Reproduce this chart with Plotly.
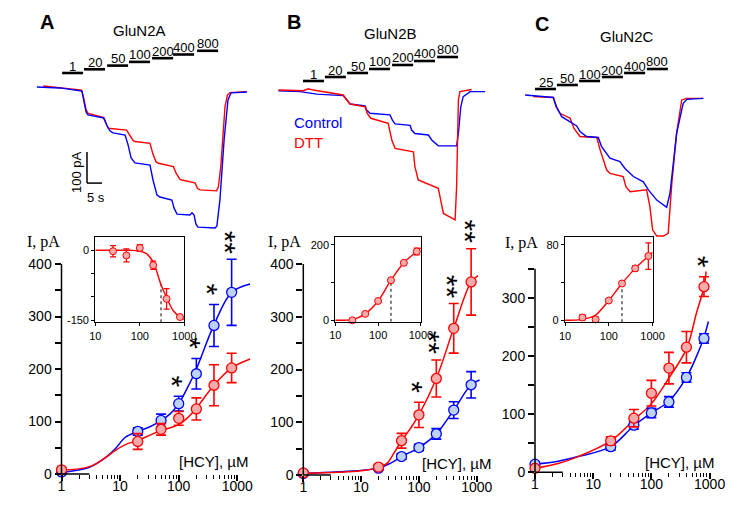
import math
import plotly.graph_objects as go

W, H = 751, 516

# ---------------- data: concentration-response (pA) ----------------
conc = [1, 20, 50, 100, 200, 400, 800]

a_ctrl = [4, 81, 102, 134, 191, 283, 346]
a_ctrl_err = [3, 7, 12, 14, 29, 40, 63]
a_dtt = [8, 62, 85, 106, 124, 169, 202]
a_dtt_err = [3, 15, 11, 13, 21, 39, 28]
a_sig = ["", "", "", "*", "*", "*", "**"]

b_ctrl = [3, 13, 35, 52, 78, 123, 171]
b_ctrl_err = [2, 4, 5, 6, 10, 16, 25]
b_dtt = [4, 15, 65, 114, 183, 278, 366]
b_dtt_err = [3, 5, 14, 24, 35, 47, 63]
b_sig = ["", "", "", "*", "**", "**", "**"]

c_ctrl = [14, 44, 81, 102, 121, 163, 230]
c_ctrl_err = [4, 6, 7, 8, 9, 8, 8]
c_dtt = [7, 54, 93, 136, 179, 215, 319]
c_dtt_err = [3, 7, 15, 22, 27, 27, 17]
c_sig = ["", "", "", "", "", "", "*"]

# fitted curves
a_fit_x = [1, 3, 5.6, 8.3, 12.3, 20, 31, 49, 72, 100, 138, 195, 400, 800, 1660]
a_fit_ctrl = [3, 13, 31, 48, 70, 81, 89, 101, 115, 134, 162, 197, 284, 346, 362]
a_fit_dtt = [7, 14, 31, 45, 56, 64, 73, 83, 88, 94, 106, 124, 169, 202, 219]

b_fit_ctrl_x = [1, 4, 20, 33, 50, 100, 200, 400, 800, 1120]
b_fit_ctrl = [3, 6, 13, 23, 35, 52, 78, 123, 171, 180]
b_fit_dtt_x = [1, 4, 10, 20, 28, 38, 50, 71, 100, 200, 400, 800, 1050]
b_fit_dtt = [3, 5, 8, 14, 22, 44, 65, 88, 114, 183, 278, 366, 378]

c_fit_ctrl_x = [1, 2.5, 5.5, 20, 50, 100, 200, 400, 600, 800, 955]
c_fit_ctrl = [14, 19, 27, 44, 80, 102, 122, 163, 200, 232, 259]
c_fit_dtt_x = [1, 2.5, 5.5, 20, 50, 100, 200, 400, 600, 800, 870]
c_fit_dtt = [7, 15, 27, 54, 90, 118, 162, 212, 275, 318, 345]

# insets: DTT effect (pA)
ins_conc = [25, 50, 100, 200, 400, 800]
ia = [-2, -11, 5, -32, -104, -143]
ia_err = [12, 14, 7, 9, 22, 4]
ia_fit_x = [10, 60, 91, 141, 200, 295, 396, 562, 794, 1000]
ia_fit = [0, 0, -1, -7, -25, -72, -100, -129, -143, -148]
ib = [0, 17, 51, 106, 152, 182]
ib_err = [3, 4, 4, 4, 5, 9]
ib_fit_x = [10, 20, 25, 50, 100, 200, 400, 800, 1000]
ib_fit = [0, 0.5, 1.5, 17, 51, 106, 152, 182, 192]
ic = [3, 1, 21, 39, 55, 68]
ic_err = [3, 2, 2, 2, 3, 14]
ic_fit_x = [10, 20, 35, 50, 100, 200, 400, 800, 1000]
ic_fit = [0, 0.5, 2.5, 5.5, 21, 39, 55, 68, 72]
ec50 = [300, 200, 200]
ec50_I = [-72, 106, 39]

# ---------------- data: current recordings (time s, current pA) ----------------
ta_t_ctrl = [2.3, 10, 17.3, 18, 18.7, 19.3, 24.7, 25.7, 26.7, 27.7, 31.7, 32.7, 33.7, 35, 40, 41,
             42.3, 43.3, 47.3, 48, 49, 53.3, 54, 54.7, 55.3, 56, 61.7, 62.3, 63.3, 64.7, 66, 67, 72.3]
ta_i_ctrl = [0, -3, -13, -42, -81, -90, -100, -126, -142, -148, -155, -187, -229, -245, -252, -300,
             -348, -355, -365, -390, -410, -413, -406, -413, -442, -452, -455, -448, -365, -171, -42, -19, -16]
ta_t_dtt = [4.4, 17.2, 17.8, 18.7, 19.4, 24.4, 25.3, 26.1, 32.2, 33.3, 34.4, 35, 40, 40.9, 42, 42.8,
            47.8, 48.7, 50, 50.6, 55, 55.8, 56.7, 62.2, 62.8, 63.6, 64.4, 65, 65.8, 66.7, 72.2]
ta_i_dtt = [3, -10, -31, -74, -85, -98, -117, -133, -139, -155, -173, -176, -182, -214, -241, -246,
            -257, -278, -298, -300, -309, -327, -332, -335, -322, -257, -149, -64, -26, -18, -15]

tb_t_ctrl = [2.8, 10, 15.6, 24.4, 25.6, 26.7, 31.7, 32.2, 33.3, 40, 40.9, 41.7, 46.7, 47.2, 48.3,
             52.8, 53.9, 55.6, 56.1, 62.2, 62.8, 63.6, 64.4, 66.7, 71.7]
tb_i_ctrl = [1, -2, -10, -15, -29, -42, -48, -61, -72, -77, -96, -106, -111, -126, -137,
             -142, -158, -174, -177, -177, -137, -51, -18, -2, -2]
tb_t_dtt = [2.8, 11.1, 12.8, 14.4, 24.4, 25.6, 26.7, 31.7, 32.4, 33.6, 39.4, 40.6, 41.7, 47.8,
            48.3, 49.4, 56.1, 56.9, 57.8, 61.7, 62.2, 62.8, 63.3, 67.2]
tb_i_dtt = [3, 1, 7, 3, -13, -29, -42, -51, -72, -88, -104, -158, -185, -196,
            -244, -287, -314, -352, -395, -416, -309, -29, -2, 5]

tc_t_ctrl = [1.7, 11.1, 12.2, 13.9, 18.9, 20, 22.2, 26.1, 27.2, 30, 33.3, 35, 37.8, 41.1, 42.8,
             45.6, 48.9, 50, 52.2, 54.4, 55.6, 61.1]
tc_i_ctrl = [0, -8, -38, -70, -100, -118, -134, -137, -167, -204, -215, -237, -263, -280, -306,
             -339, -362, -317, -124, -27, -14, -11]
tc_t_dtt = [4.4, 11.1, 12, 13.3, 16.7, 18, 20, 25.6, 26.7, 28.9, 30, 34.4, 35.3, 36.7, 42.2, 43.3,
            44.2, 45.6, 47.8, 49.4, 50.6, 52.2, 53.9, 55.6, 61.1]
tc_i_dtt = [-5, -8, -38, -59, -75, -108, -134, -137, -177, -242, -253, -263, -296, -312, -306, -360,
            -435, -455, -455, -446, -285, -124, -16, -11, -11]

# HCY application periods (start, s) and labels (µM)
a_app_t = [10.7, 18, 25.7, 33, 40.7, 47.7, 55.7]
ab_app_lab = ["1", "20", "50", "100", "200", "400", "800"]
b_app_t = [11, 18.3, 25.7, 33, 40.7, 48, 55.7]
c_app_t = [5, 12.3, 19.7, 27.3, 34.7, 42.3]
c_app_lab = ["25", "50", "100", "200", "400", "800"]
app_dur = 7
scale_pA = 100
scale_s = 5

# ---------------- styling / layout helpers ----------------
SANS = "Liberation Sans, Arial, sans-serif"
SERIF = "Liberation Serif, Times New Roman, serif"
BLUE = "#0000ff"
RED = "#ff0000"
BLUE_FILL = "#bdd3f5"
RED_FILL = "#f6aaaa"


def fx(px):
    return px / W


def fy(py):
    return 1 - py / H


fig = go.Figure()

# ---- main concentration-response panels ----
panels = [
    ("x", "y", a_fit_x, a_fit_ctrl, a_fit_x, a_fit_dtt, a_ctrl, a_ctrl_err, a_dtt, a_dtt_err),
    ("x2", "y2", b_fit_ctrl_x, b_fit_ctrl, b_fit_dtt_x, b_fit_dtt, b_ctrl, b_ctrl_err, b_dtt, b_dtt_err),
    ("x3", "y3", c_fit_ctrl_x, c_fit_ctrl, c_fit_dtt_x, c_fit_dtt, c_ctrl, c_ctrl_err, c_dtt, c_dtt_err),
]
for xa, ya, fxc, fyc, fxd, fyd, yc, ec, yd, ed in panels:
    fig.add_trace(go.Scatter(x=fxc, y=fyc, mode="lines", xaxis=xa, yaxis=ya,
                             line=dict(color=BLUE, width=1.5, shape="spline", smoothing=1.0),
                             showlegend=False, hoverinfo="skip"))
    fig.add_trace(go.Scatter(x=fxd, y=fyd, mode="lines", xaxis=xa, yaxis=ya,
                             line=dict(color=RED, width=1.5, shape="spline", smoothing=1.0),
                             showlegend=False, hoverinfo="skip"))
    fig.add_trace(go.Scatter(x=conc, y=yc, mode="markers", xaxis=xa, yaxis=ya, cliponaxis=False,
                             marker=dict(size=10, color=BLUE_FILL, line=dict(color=BLUE, width=1.3)),
                             error_y=dict(type="data", array=ec, color=BLUE, thickness=1.6, width=5),
                             showlegend=False))
    fig.add_trace(go.Scatter(x=conc, y=yd, mode="markers", xaxis=xa, yaxis=ya, cliponaxis=False,
                             marker=dict(size=10, color=RED_FILL, line=dict(color=RED, width=1.3)),
                             error_y=dict(type="data", array=ed, color=RED, thickness=1.6, width=5),
                             showlegend=False))

# ---- insets ----
insets = [("x4", "y4", ia_fit_x, ia_fit, ia, ia_err, 0, -154.3),
          ("x5", "y5", ib_fit_x, ib_fit, ib, ib_err, 1, -4),
          ("x6", "y6", ic_fit_x, ic_fit, ic, ic_err, 2, -2)]
for xa, ya, fitx, fity, yv, ev, k, ybot in insets:
    fig.add_trace(go.Scatter(x=[ec50[k], ec50[k]], y=[ybot, ec50_I[k]], mode="lines",
                             xaxis=xa, yaxis=ya, line=dict(color="black", width=1, dash="dot"),
                             showlegend=False, hoverinfo="skip"))
    fig.add_trace(go.Scatter(x=fitx, y=fity, mode="lines", xaxis=xa, yaxis=ya,
                             line=dict(color=RED, width=1.4, shape="spline", smoothing=1.0),
                             showlegend=False, hoverinfo="skip"))
    fig.add_trace(go.Scatter(x=ins_conc, y=yv, mode="markers", xaxis=xa, yaxis=ya, cliponaxis=False,
                             marker=dict(size=7, color=RED_FILL, line=dict(color=RED, width=1)),
                             error_y=dict(type="data", array=ev, color=RED, thickness=1.3, width=3),
                             showlegend=False))

# ---- current recordings ----
recs = [("x7", "y7", [(ta_t_dtt, ta_i_dtt, RED), (ta_t_ctrl, ta_i_ctrl, BLUE)]),
        ("x8", "y8", [(tb_t_ctrl, tb_i_ctrl, BLUE), (tb_t_dtt, tb_i_dtt, RED)]),
        ("x9", "y9", [(tc_t_dtt, tc_i_dtt, RED), (tc_t_ctrl, tc_i_ctrl, BLUE)])]
for xa, ya, series in recs:
    for t, i, col in series:
        fig.add_trace(go.Scatter(x=t, y=i, mode="lines", xaxis=xa, yaxis=ya,
                                 line=dict(color=col, width=1.4), showlegend=False, hoverinfo="skip"))

# ---------------- axes ----------------
minor_vals = [m * 10 ** d for d in range(0, 3) for m in range(2, 10)]
tickfont = dict(family=SANS, size=14, color="black")
inset_font = dict(family=SANS, size=11, color="black")


def main_x(dom, rng, anchor):
    return dict(type="log", range=rng, domain=dom, anchor=anchor, showline=False,
                ticks="outside", ticklen=6, tickwidth=1.5, tickcolor="black",
                tickvals=[1, 10, 100, 1000], ticktext=["1", "10", "100", "1000"],
                ticklabelstandoff=-7,
                minor=dict(tickvals=minor_vals, ticks="outside", ticklen=3.5, tickwidth=1.2,
                           tickcolor="black", showgrid=False),
                showgrid=False, zeroline=False, tickfont=tickfont, automargin=False)


def main_y(dom, rng, top_tick, anchor):
    vals = list(range(0, top_tick + 1, 50))
    return dict(range=rng, domain=dom, anchor=anchor, showline=False,
                ticks="outside", ticklen=6, tickwidth=1.5, tickcolor="black",
                tickvals=vals, ticktext=[str(v) if v % 100 == 0 else "" for v in vals],
                showgrid=False, zeroline=False, tickfont=tickfont, automargin=False)


def inset_x(dom, anchor):
    return dict(type="log", range=[1, 3], domain=dom, anchor=anchor, showline=True, mirror=True,
                linecolor="black", linewidth=1.2, ticks="outside", ticklen=3, tickwidth=1,
                tickcolor="black", tickvals=[10, 100, 1000], ticktext=["10", "100", "1000"],
                showgrid=False, zeroline=False, tickfont=inset_font, automargin=False)


def inset_y(dom, rng, vals, texts, anchor):
    return dict(range=rng, domain=dom, anchor=anchor, showline=True, mirror=True,
                linecolor="black", linewidth=1.2, ticks="outside", ticklen=3, tickwidth=1,
                tickcolor="black", tickvals=vals, ticktext=texts,
                showgrid=False, zeroline=False, tickfont=inset_font, automargin=False)


def hidden(dom, rng, anchor):
    return dict(range=rng, domain=dom, anchor=anchor, visible=False, showgrid=False,
                zeroline=False, automargin=False)


# main plots: y extends a little above the last tick (the axis line stops at the last tick)
A_PPU = 0.525      # px per pA
B_PPU = 0.5275
C_PPU = 0.582
layout = dict(
    template="none",
    width=W, height=H, autosize=False, margin=dict(l=0, r=0, t=0, b=0, pad=0),
    paper_bgcolor="white", plot_bgcolor="rgba(0,0,0,0)", showlegend=False,
    font=dict(family=SANS, color="black"),
    xaxis=main_x([fx(61.5), fx(250.2)], [0, 3.22], "y"),
    yaxis=main_y([fy(474), fy(474 - 450 * A_PPU)], [0, 450], 400, "x"),
    xaxis2=main_x([fx(303.3), fx(480.2)], [0, 3.06], "y2"),
    yaxis2=main_y([fy(475), fy(475 - 450 * B_PPU)], [0, 450], 400, "x2"),
    xaxis3=main_x([fx(535), fx(709.6)], [0, 3.0], "y3"),
    yaxis3=main_y([fy(472.3), fy(472.3 - 350 * C_PPU)], [0, 350], 350, "x3"),
    xaxis4=inset_x([fx(95.3), fx(184.3)], "y4"),
    yaxis4=inset_y([fy(322.3), fy(237)], [-154.3, 28.5], [-150, -100, -50, 0], ["-150", "", "", "0"], "x4"),
    xaxis5=inset_x([fx(335.3), fx(420.9)], "y5"),
    yaxis5=inset_y([fy(321.8), fy(237.1)], [-4, 220], [0, 100, 200], ["0", "", "200"], "x5"),
    xaxis6=inset_x([fx(565), fx(652.6)], "y6"),
    yaxis6=inset_y([fy(322.2), fy(237.2)], [-2, 88], [0, 40, 80], ["0", "", "80"], "x6"),
    xaxis7=hidden([fx(30), fx(252)], [0, 74], "y7"),
    yaxis7=hidden([fy(245), fy(40)], [-509.7, 151.6], "x7"),
    xaxis8=hidden([fx(270), fx(492)], [0, 74], "y8"),
    yaxis8=hidden([fy(245), fy(40)], [-496.8, 164.5], "x8"),
    xaxis9=hidden([fx(520), fx(742)], [0, 74], "y9"),
    yaxis9=hidden([fy(245), fy(40)], [-483.9, 177.4], "x9"),
)

shapes = []
annotations = []

# axis lines of the main plots (x: 1..1000, y: 0..last tick)
for xa, ya, ytop in [("x", "y", 400), ("x2", "y2", 400), ("x3", "y3", 350)]:
    shapes.append(dict(type="line", xref=xa, yref=ya + " domain", x0=0, x1=3, y0=0, y1=0,
                       line=dict(color="black", width=1.5)))
    shapes.append(dict(type="line", xref=xa + " domain", yref=ya, x0=0, x1=0, y0=0, y1=ytop,
                       line=dict(color="black", width=1.5)))


def ann(text, xp, yp, size, color="black", family=SANS, bold=False, **kw):
    if bold:
        text = "<b>" + text + "</b>"
    d = dict(text=text, x=fx(xp), y=fy(yp), xref="paper", yref="paper", showarrow=False,
             font=dict(family=family, size=size, color=color), xanchor="center", yanchor="middle")
    d.update(kw)
    annotations.append(d)


# panel letters and titles
ann("A", 47, 22, 20, bold=True)
ann("B", 294, 22, 20, bold=True)
ann("C", 542, 24, 20, bold=True)
ann("GluN2A", 139, 31, 15)
ann("GluN2B", 390, 33, 15)
ann("GluN2C", 627, 36, 15)

# legend text
ann("Control", 292, 123, 15, color=BLUE, xanchor="left")
ann("DTT", 292, 142, 15, color=RED, xanchor="left")

# axis titles
for xp, yp in [(43, 242), (284, 242), (521, 243)]:
    ann("I, pA", xp, yp, 16, family=SERIF)
for xp, yp in [(213, 461), (456, 463), (679, 462)]:
    ann("[HCY], µM", xp, yp, 15)

# application bars
for xa, starts, labs, y0, step in [("x7", a_app_t, ab_app_lab, 73, -3.7),
                                   ("x8", b_app_t, ab_app_lab, 81, -4.0),
                                   ("x9", c_app_t, c_app_lab, 89, -4.0)]:
    for k, (t0, lab) in enumerate(zip(starts, labs)):
        yb = y0 + step * k
        shapes.append(dict(type="line", xref=xa, yref="paper", x0=t0, x1=t0 + app_dur,
                           y0=fy(yb), y1=fy(yb), line=dict(color="black", width=2.6)))
        annotations.append(dict(text=lab, x=t0 + app_dur / 2, y=fy(yb - 7), xref=xa, yref="paper",
                                showarrow=False, xanchor="center", yanchor="middle",
                                font=dict(family=SANS, size=13, color="black")))

# scale bar (panel A recording axes)
sb_t, sb_i = 19, -210
shapes.append(dict(type="line", xref="x7", yref="y7", x0=sb_t, x1=sb_t, y0=sb_i, y1=sb_i - scale_pA,
                   line=dict(color="black", width=1.5)))
shapes.append(dict(type="line", xref="x7", yref="y7", x0=sb_t, x1=sb_t + scale_s, y0=sb_i - scale_pA,
                   y1=sb_i - scale_pA, line=dict(color="black", width=1.5)))
ann(f"{scale_pA} pA", 77, 172, 13, textangle=-90)
ann(f"{scale_s} s", 96, 197, 13)

# significance asterisks (stacked asterisks drawn as one rotated string)
for xa, ya, yc, ec, yd, ed, sig in [("x", "y", a_ctrl, a_ctrl_err, a_dtt, a_dtt_err, a_sig),
                                    ("x2", "y2", b_ctrl, b_ctrl_err, b_dtt, b_dtt_err, b_sig),
                                    ("x3", "y3", c_ctrl, c_ctrl_err, c_dtt, c_dtt_err, c_sig)]:
    for k, s in enumerate(sig):
        if not s:
            continue
        top = max(yc[k] + ec[k], yd[k] + ed[k])
        annotations.append(dict(text=s, x=math.log10(conc[k]), y=top, xref=xa, yref=ya,
                                showarrow=False, xanchor="center", yanchor="bottom",
                                textangle=90, xshift=-6, yshift=7 if len(s) == 1 else 3,
                                font=dict(family=SANS, size=30, color="black")))

layout["shapes"] = shapes
layout["annotations"] = annotations
fig.update_layout(**layout)
fig.write_html("out.html", config={"displayModeBar": False},
               post_script="document.body.style.margin='0';")
